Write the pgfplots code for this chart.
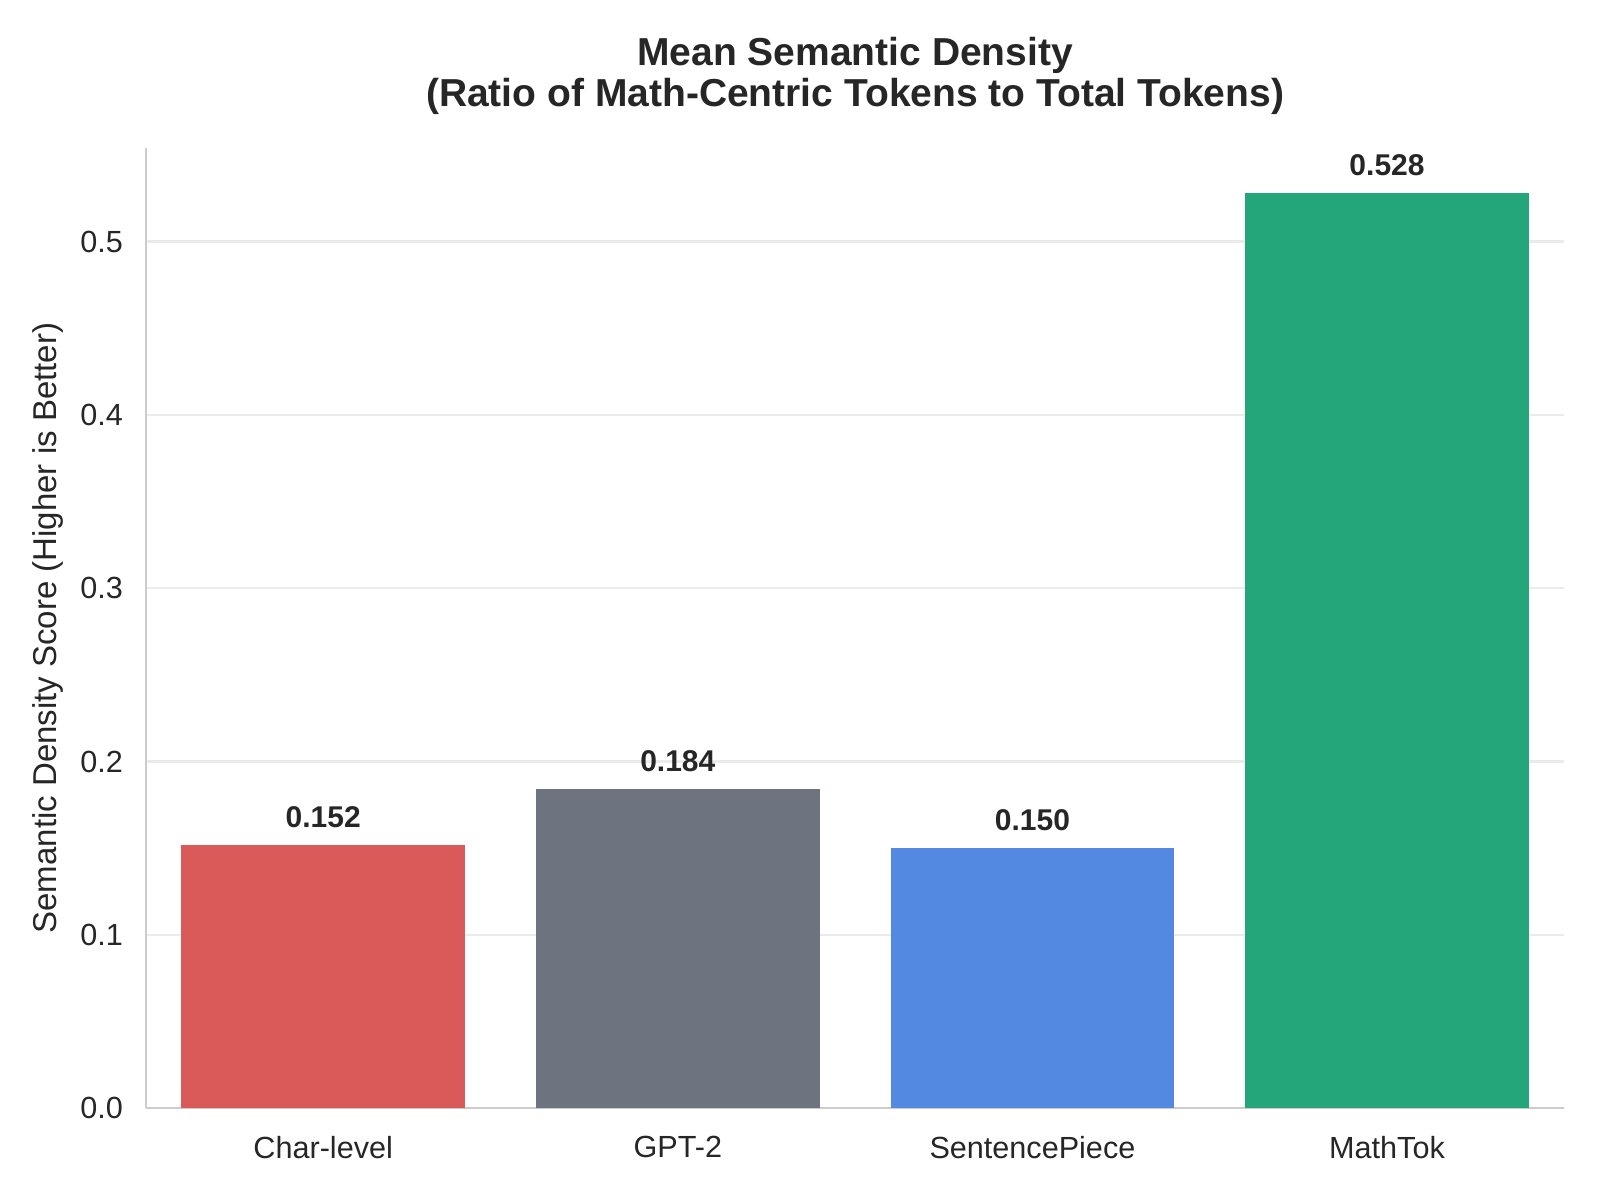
\documentclass[border=0pt]{standalone}
\usepackage{pgfplots}
\pgfplotsset{compat=1.18}
\usepackage{fontspec}
\setmainfont{Liberation Sans}

\definecolor{charred}{HTML}{DA5A5A}
\definecolor{gptgray}{HTML}{6E7380}
\definecolor{spblue}{HTML}{5389E0}
\definecolor{mtgreen}{HTML}{25A57A}
\definecolor{spine}{HTML}{CCCCCC}
\definecolor{gridgray}{HTML}{EBEBEB}
\definecolor{txt}{HTML}{262626}

\begin{document}
\begin{tikzpicture}
  \path[use as bounding box] (-72.96pt,-45.9pt) rectangle (727.04pt,554.1pt);
  \begin{axis}[
    at={(0,0)}, anchor=south west,
    scale only axis,
    width=709.2pt, height=480.1pt,
    xmin=-0.5, xmax=3.5,
    ymin=0, ymax=0.554,
    axis x line*=bottom, axis y line*=left,
    axis line style={-, draw=spine, line width=1pt},
    major tick length=0pt,
    xtick={0,1,2,3},
    xticklabels={Char-level, GPT-2, SentencePiece, MathTok},
    ytick={0,0.1,0.2,0.3,0.4,0.5},
    /pgf/number format/assume math mode=true,
    yticklabel style={/pgf/number format/fixed, /pgf/number format/fixed zerofill,
      /pgf/number format/precision=1, xshift=-8pt},
    xticklabel style={yshift=-10.5pt},
    tick label style={font=\fontsize{15.3}{18}\selectfont, text=txt},
    ymajorgrids,
    grid style={draw=gridgray, line width=1.2pt},
    ylabel={Semantic Density Score (Higher is Better)},
    ylabel style={at={(axis description cs:0,0.5)}, anchor=center, yshift=49pt,
      font=\fontsize{16.5}{19}\selectfont, text=txt},
    title={Mean Semantic Density\\(Ratio of Math-Centric Tokens to Total Tokens)},
    title style={align=center, font=\bfseries\fontsize{19.5}{20.5}\selectfont, text=txt, yshift=7pt},
    ybar, bar width=0.8, bar shift=0pt,
    nodes near coords,
    every node near coord/.append style={font=\bfseries\fontsize{15}{17}\selectfont, text=txt,
      /pgf/number format/fixed, /pgf/number format/fixed zerofill,
      /pgf/number format/precision=3, yshift=5pt},
  ]
    \addplot[fill=charred, draw=none] coordinates {(0,0.152)};
    \addplot[fill=gptgray, draw=none] coordinates {(1,0.184)};
    \addplot[fill=spblue, draw=none] coordinates {(2,0.150)};
    \addplot[fill=mtgreen, draw=none] coordinates {(3,0.528)};
  \end{axis}
\end{tikzpicture}
\end{document}
